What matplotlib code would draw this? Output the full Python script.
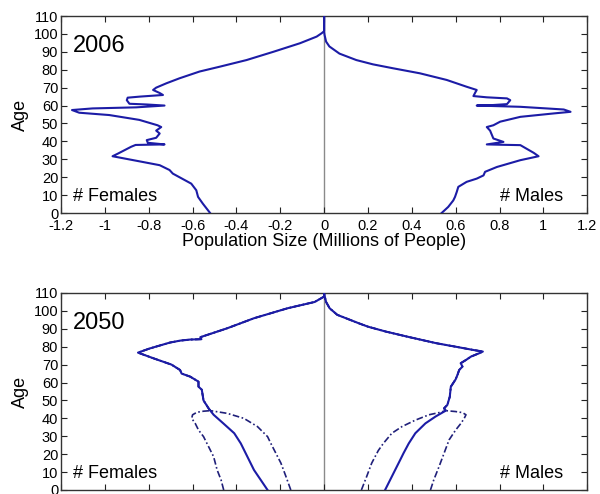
import matplotlib
matplotlib.use('Agg')
import matplotlib.pyplot as plt

plt.rcParams['font.family'] = ['Liberation Sans', 'DejaVu Sans']
plt.rcParams['axes.unicode_minus'] = False

# 2006 profile (millions of people, females negative)
ages_f06 = [0, 5.2, 9, 12.7, 16.4, 20, 22, 24, 26.7, 28.5, 31.7, 33.2, 37, 38, 38.3, 39.2, 40.7,
            42, 44.4, 46, 48, 49, 52, 54.7, 56, 57.5, 58.4, 59, 60, 60.6, 61, 63, 64.4, 65, 65.9,
            67, 68.7, 70, 72.4, 75.2, 79, 81.7, 85.4, 90, 94.8, 98.5, 100.4, 101.5, 110]
fem06 = [-0.52, -0.553, -0.575, -0.583, -0.606, -0.66, -0.69, -0.705, -0.75, -0.827, -0.965,
         -0.94, -0.88, -0.86, -0.728, -0.804, -0.809, -0.766, -0.75, -0.766, -0.743, -0.76,
         -0.843, -0.98, -1.117, -1.15, -1.056, -0.857, -0.728, -0.81, -0.888, -0.9, -0.896,
         -0.84, -0.735, -0.75, -0.78, -0.766, -0.72, -0.66, -0.568, -0.476, -0.354, -0.232,
         -0.11, -0.034, -0.011, 0, 0]

ages_m06 = [0, 3.4, 7, 9, 11.8, 14.6, 17.4, 19.2, 21, 23, 25.7, 29.5, 31.7, 33.6, 37.9, 38.1,
            38.3, 39.7, 41.6, 46, 48, 49, 51, 53.7, 55.6, 56.5, 57.8, 59.3, 60, 60.3, 60.8, 63,
            64, 64.6, 65.3, 67.2, 68.7, 70.5, 74.3, 78, 80.8, 83, 85.4, 89, 93, 95.7, 99.4,
            101.3, 110]
male06 = [0.536, 0.566, 0.589, 0.597, 0.605, 0.612, 0.650, 0.696, 0.727, 0.734, 0.788, 0.895,
          0.978, 0.956, 0.895, 0.81, 0.742, 0.818, 0.772, 0.757, 0.742, 0.772, 0.803, 0.895,
          1.047, 1.124, 1.093, 0.895, 0.696, 0.772, 0.834, 0.849, 0.834, 0.742, 0.681, 0.689,
          0.696, 0.650, 0.559, 0.437, 0.315, 0.223, 0.147, 0.070, 0.024, 0.009, 0.002, 0, 0]

# 2050 projection (solid = central estimate)
ages_f50 = [0, 5.6, 11.2, 18.6, 26, 31.7, 37, 42, 44.3, 45.6, 50, 56, 57.7, 60.5, 63.3, 65, 67,
            70, 73.6, 76.7, 79, 82.3, 83.4, 84, 84.2, 85.3, 90.3, 95.9, 101.5, 105, 108, 110]
fem50 = [-0.258, -0.289, -0.32, -0.35, -0.38, -0.41, -0.458, -0.504, -0.519, -0.527, -0.55,
         -0.558, -0.573, -0.573, -0.611, -0.65, -0.657, -0.696, -0.78, -0.849, -0.796, -0.704,
         -0.657, -0.611, -0.56, -0.565, -0.442, -0.32, -0.166, -0.043, 0, 0]

ages_m50 = [0, 5.6, 11.2, 16.8, 20.5, 26, 31.7, 37.2, 41, 43.2, 44.3, 45.6, 47.5, 52, 57.7, 60.5,
            61.8, 64.2, 67, 68.9, 70.8, 72.6, 74.5, 76.4, 77.3, 78.2, 80, 82, 85.6, 88.5, 91.2,
            93, 97.8, 101.5, 105, 109, 110]
male50 = [0.278, 0.301, 0.324, 0.347, 0.362, 0.386, 0.416, 0.462, 0.508, 0.539, 0.555, 0.547,
          0.562, 0.573, 0.578, 0.593, 0.60, 0.608, 0.616, 0.631, 0.623, 0.647, 0.67, 0.708,
          0.724, 0.68, 0.60, 0.51, 0.38, 0.28, 0.2, 0.16, 0.06, 0.025, 0.009, 0.001, 0]

# 2050 bounds below age 44 (dash-dot)
ages_f_lo = [0, 5.6, 11.2, 18.6, 24.2, 29.8, 33.5, 37.2, 40, 42, 43.4, 44]
fem_lo = [-0.458, -0.47, -0.488, -0.504, -0.527, -0.55, -0.573, -0.588, -0.604, -0.6, -0.58, -0.55]
ages_f_hi = [0, 7.5, 15, 20.5, 26, 29.8, 35.4, 40, 42.8]
fem_hi = [-0.152, -0.174, -0.197, -0.22, -0.243, -0.258, -0.304, -0.366, -0.442]

ages_m_hi = [0, 5.6, 13, 20.5, 28, 33.5, 37.2, 40, 42, 43.2, 43.8]
male_hi = [0.485, 0.50, 0.524, 0.547, 0.57, 0.60, 0.624, 0.639, 0.647, 0.631, 0.6]
ages_m_lo = [0, 7.5, 15, 22, 26, 31.7, 35.4, 39, 42, 43.2]
male_lo = [0.17, 0.194, 0.217, 0.247, 0.27, 0.309, 0.355, 0.416, 0.478, 0.524]

xticks = [-1.2, -1, -0.8, -0.6, -0.4, -0.2, 0, 0.2, 0.4, 0.6, 0.8, 1, 1.2]
xlabels = ['-1.2', '-1', '-0.8', '-0.6', '-0.4', '-0.2', '0', '0.2', '0.4', '0.6', '0.8', '1', '1.2']

solid_c = '#1c1ca6'
dash_c = '#20207a'

fig = plt.figure(figsize=(6, 4.94), dpi=100)
ax1 = fig.add_axes([0.1017, 0.5688, 0.877, 0.3988])
ax2 = fig.add_axes([0.1017, 0.0081, 0.877, 0.3988])


def style(ax, year, show_x):
    ax.axvline(0, color='#8a8a8a', lw=1.0, zorder=1)
    ax.set_xlim(-1.2, 1.2)
    ax.set_ylim(0, 110)
    ax.set_xticks(xticks)
    ax.set_yticks(range(0, 111, 10))
    ax.set_xticklabels(xlabels)
    ax.tick_params(direction='in', top=True, right=True, length=4, width=0.8,
                   labelsize=10.5, pad=2, colors='#222222')
    ax.tick_params(axis='x', pad=4)
    ax.tick_params(labelcolor='black')
    if not show_x:
        ax.tick_params(labelbottom=False)
    for s in ax.spines.values():
        s.set_linewidth(1.0)
        s.set_color('#333333')
    ax.set_ylabel('Age', fontsize=13, labelpad=3)
    ax.text(-1.145, 90, year, fontsize=17)
    ax.text(-1.145, 6.5, '# Females', fontsize=13)
    ax.text(1.09, 6.5, '# Males', fontsize=13, ha='right')


ax1.plot(fem06, ages_f06, color=solid_c, lw=1.5, zorder=3)
ax1.plot(male06, ages_m06, color=solid_c, lw=1.5, zorder=3)
style(ax1, '2006', True)
ax1.set_xlabel('Population Size (Millions of People)', fontsize=13, labelpad=0)

dd = (0, (4, 1.5, 1, 1.5))
ax2.plot(fem50, ages_f50, color=solid_c, lw=1.5, zorder=3)
ax2.plot(male50, ages_m50, color=solid_c, lw=1.5, zorder=3)
k_f = ages_f50.index(44.3)
k_m = ages_m50.index(44.3)
for a, v, k, ag, vv in [(ages_f_lo, fem_lo, k_f, ages_f50, fem50),
                        (ages_f_hi, fem_hi, k_f, ages_f50, fem50),
                        (ages_m_hi, male_hi, k_m, ages_m50, male50),
                        (ages_m_lo, male_lo, k_m, ages_m50, male50)]:
    ax2.plot(vv[k:], ag[k:], color=dash_c, lw=1.2, ls=dd, zorder=2)
    ax2.plot(v + [vv[k]], a + [ag[k]], color=dash_c, lw=1.2, ls=dd, zorder=2)
style(ax2, '2050', False)

fig.savefig('out.png', dpi=100)
